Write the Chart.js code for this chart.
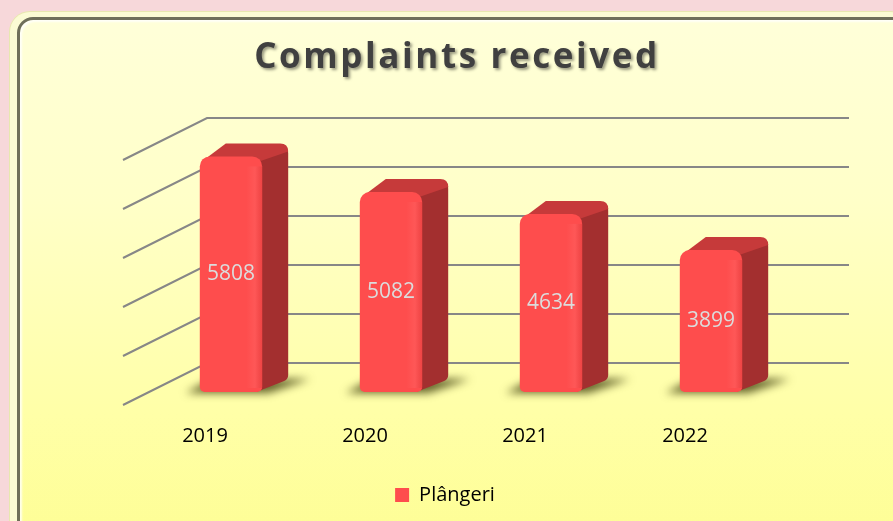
<!DOCTYPE html>
<html>
<head>
<meta charset="utf-8">
<script src="https://cdn.jsdelivr.net/npm/chart.js@4"></script>
<style>
  html, body { margin: 0; padding: 0; }
  body { width: 893px; height: 521px; overflow: hidden; position: relative; background: #f7d8da; }
  .frame {
    position: absolute; left: 10px; top: 12px; width: 900px; height: 530px;
    border-radius: 20px; background: #fbfbd4;
    box-shadow: 0 0 0 1px #e8e8b0;
  }
  .inner {
    position: absolute; left: 7px; top: 5px; right: 0; bottom: 0;
    border-radius: 16px; border: 3px solid #6f6f5a;
    background: linear-gradient(to bottom, #ffffd9 0%, #ffffc8 35%, #ffffa8 75%, #fefe95 100%);
    box-shadow: inset 2px 2px 2px rgba(255,255,255,0.8);
  }
  canvas { position: absolute; left: 0; top: 0; }
</style>
</head>
<body>
<div class="frame"><div class="inner"></div></div>
<canvas id="chart" width="893" height="521"></canvas>
<script>
// data
const years = ["2019", "2020", "2021", "2022"];
const complaints = [5808, 5082, 4634, 3899];
const seriesName = "Plângeri";
const chartTitle = "Complaints received";
const axisMin = 1000;
const axisMax = 6000;
const axisStep = 1000;

// 3d look: bar front face sits a bit behind the floor edge, back wall further
const barShift = { x: 26, y: -13 };
const barDepth = { x: 26, y: -13 };
const wallShift = { x: 84, y: -42 };

const fake3d = {
    id: "fake3d",
    beforeDatasetsDraw(chart) {
        const ctx = chart.ctx;
        const y = chart.scales.y;
        const area = chart.chartArea;
        let values = y.ticks.map(t => t.value);
        if (!values.length) {
            for (let v = axisMin; v <= axisMax; v += axisStep) values.push(v);
        }

        // grid: diagonal side lines + back wall lines
        ctx.save();
        ctx.strokeStyle = "#878787";
        ctx.lineWidth = 2;
        values.forEach(v => {
            let py = y.getPixelForValue(v);
            ctx.beginPath();
            ctx.moveTo(area.left - 2, py);
            ctx.lineTo(area.left - 2 + wallShift.x, py + wallShift.y);
            ctx.lineTo(area.right + wallShift.x, py + wallShift.y);
            ctx.stroke();
        });
        ctx.restore();

        let meta = chart.getDatasetMeta(0);
        meta.data.forEach(bar => {
            let xl = bar.x - bar.width / 2 + barShift.x;
            let xr = bar.x + bar.width / 2 + barShift.x;
            let yt = bar.y + barShift.y;
            let yb = bar.base + barShift.y;

            // floor shadow
            ctx.save();
            ctx.filter = "blur(4px)";
            ctx.fillStyle = "rgba(60,60,10,0.8)";
            ctx.beginPath();
            ctx.moveTo(xl - 14, yb + 1);
            ctx.lineTo(xr + 6, yb + 1);
            ctx.lineTo(xr + barDepth.x + 22, yb + barDepth.y);
            ctx.lineTo(xl + barDepth.x - 14, yb + barDepth.y);
            ctx.closePath();
            ctx.fill();
            ctx.restore();

            // side face
            ctx.save();
            ctx.fillStyle = "#a32f2f";
            ctx.beginPath();
            ctx.moveTo(xr - 6, yt + 2);
            ctx.lineTo(xr + barDepth.x - 6, yt + barDepth.y + 2);
            ctx.quadraticCurveTo(xr + barDepth.x, yt + barDepth.y + 2, xr + barDepth.x, yt + barDepth.y + 10);
            ctx.lineTo(xr + barDepth.x, yb + barDepth.y - 4);
            ctx.quadraticCurveTo(xr + barDepth.x, yb + barDepth.y, xr + barDepth.x - 4, yb + barDepth.y + 2);
            ctx.lineTo(xr - 6, yb);
            ctx.closePath();
            ctx.fill();

            // top face
            ctx.fillStyle = "#c63a3a";
            ctx.beginPath();
            ctx.moveTo(xl + 6, yt + 2);
            ctx.lineTo(xl + barDepth.x, yt + barDepth.y);
            ctx.lineTo(xr + barDepth.x - 8, yt + barDepth.y);
            ctx.quadraticCurveTo(xr + barDepth.x, yt + barDepth.y, xr + barDepth.x, yt + barDepth.y + 8);
            ctx.lineTo(xr - 6, yt + 6);
            ctx.closePath();
            ctx.fill();
            ctx.restore();
        });

        ctx.save();
        ctx.translate(barShift.x, barShift.y);
    },
    afterDatasetsDraw(chart) {
        const ctx = chart.ctx;
        ctx.restore();

        // soft highlight near right edge of front face + value labels
        let meta = chart.getDatasetMeta(0);
        meta.data.forEach((bar, i) => {
            let xr = bar.x + bar.width / 2 + barShift.x;
            let yt = bar.y + barShift.y;
            let yb = bar.base + barShift.y;
            ctx.save();
            let g = ctx.createLinearGradient(xr - 16, 0, xr, 0);
            g.addColorStop(0, "rgba(255,110,110,0)");
            g.addColorStop(0.55, "rgba(255,110,110,0.3)");
            g.addColorStop(1, "rgba(190,40,40,0.25)");
            ctx.fillStyle = g;
            ctx.fillRect(xr - 16, yt + 10, 16, yb - yt - 14);

            ctx.fillStyle = "#dcdcdc";
            ctx.font = "21px 'Open Sans'";
            ctx.textAlign = "center";
            ctx.textBaseline = "middle";
            ctx.fillText(String(complaints[i]), bar.x + barShift.x, (bar.y + bar.base) / 2 + barShift.y);
            ctx.restore();
        });
    },
    afterDraw(chart) {
        const ctx = chart.ctx;
        ctx.save();
        ctx.font = "bold 35px 'Open Sans'";
        ctx.letterSpacing = "2.6px";
        ctx.textAlign = "center";
        ctx.textBaseline = "alphabetic";
        ctx.shadowColor = "rgba(0,0,0,0.4)";
        ctx.shadowOffsetX = 2;
        ctx.shadowOffsetY = 2;
        ctx.shadowBlur = 3;
        ctx.fillStyle = "#404040";
        ctx.fillText(chartTitle, 457, 68);
        ctx.restore();
    }
};

new Chart(document.getElementById("chart"), {
    type: "bar",
    data: {
        labels: years,
        datasets: [{
            label: seriesName,
            data: complaints,
            base: axisMin,
            backgroundColor: "#fe4d4d",
            borderColor: "#b03030",
            borderWidth: 0,
            borderRadius: { topLeft: 10, topRight: 10, bottomLeft: 5, bottomRight: 5 },
            borderSkipped: false,
            barPercentage: 0.39,
            categoryPercentage: 1
        }]
    },
    options: {
        responsive: false,
        animation: false,
        layout: { padding: { left: 125, right: 128, top: 160, bottom: 6 } },
        scales: {
            x: {
                grid: { display: false },
                border: { display: false },
                ticks: { color: "#000", font: { size: 20, family: "'Open Sans'" }, padding: 11 },
                afterFit(scale) { scale.height = 66; }
            },
            y: {
                display: false,
                min: axisMin,
                max: axisMax,
                ticks: { stepSize: axisStep }
            }
        },
        plugins: {
            legend: {
                position: "bottom",
                labels: {
                    color: "#000",
                    font: { size: 20, family: "'Open Sans'" },
                    boxWidth: 14,
                    boxHeight: 14,
                    padding: 14
                }
            },
            tooltip: { enabled: false }
        }
    },
    plugins: [fake3d]
});
</script>
</body>
</html>
